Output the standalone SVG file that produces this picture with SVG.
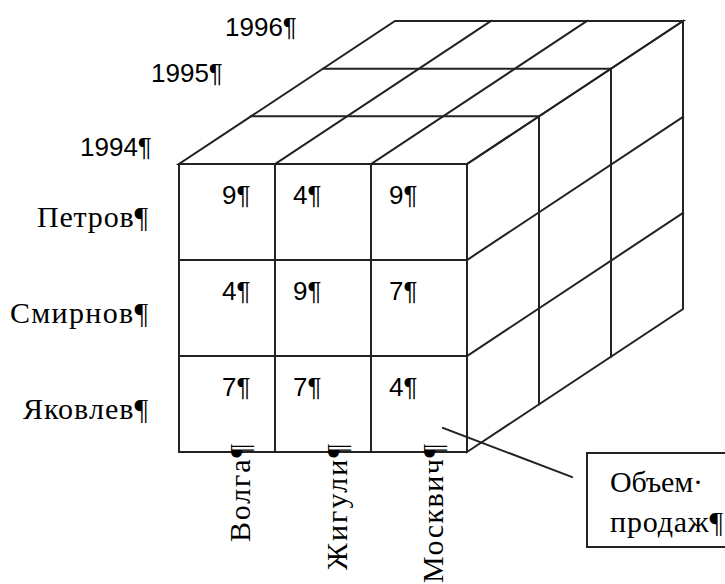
<svg xmlns="http://www.w3.org/2000/svg" width="725" height="584" viewBox="0 0 725 584">
<style>
.ln{stroke:#222;stroke-width:2;fill:none;stroke-linecap:square}
.num{font-family:"Liberation Sans",Arial,sans-serif;font-size:26px;fill:#000}
.lbl{font-family:"Liberation Serif","Times New Roman",serif;font-size:30px;fill:#000}
</style>
<rect width="725" height="584" fill="#fff"/>
<g id="cube">
  <g id="front-face">
    <rect class="ln" x="179" y="164" width="288" height="288"/>
    <line class="ln" x1="275" y1="164" x2="275" y2="452"/>
    <line class="ln" x1="371" y1="164" x2="371" y2="452"/>
    <line class="ln" x1="179" y1="260" x2="467" y2="260"/>
    <line class="ln" x1="179" y1="356" x2="467" y2="356"/>
  </g>
  <g id="top-face">
    <polygon class="ln" points="179,164 467,164 683,21 395,21"/>
    <line class="ln" x1="251" y1="116.3" x2="539" y2="116.3"/>
    <line class="ln" x1="323" y1="68.7" x2="611" y2="68.7"/>
    <line class="ln" x1="275" y1="164" x2="491" y2="21"/>
    <line class="ln" x1="371" y1="164" x2="587" y2="21"/>
  </g>
  <g id="right-face">
    <polygon class="ln" points="467,164 683,21 683,309 467,452"/>
    <line class="ln" x1="467" y1="260" x2="683" y2="117"/>
    <line class="ln" x1="467" y1="356" x2="683" y2="213"/>
    <line class="ln" x1="539" y1="116.3" x2="539" y2="404.3"/>
    <line class="ln" x1="611" y1="68.7" x2="611" y2="356.7"/>
  </g>
</g>
<g id="cells">
  <text class="num" x="222" y="204">9¶</text>
  <text class="num" x="293" y="204">4¶</text>
  <text class="num" x="389" y="204">9¶</text>
  <text class="num" x="222" y="300">4¶</text>
  <text class="num" x="293" y="300">9¶</text>
  <text class="num" x="389" y="300">7¶</text>
  <text class="num" x="222" y="396">7¶</text>
  <text class="num" x="293" y="396">7¶</text>
  <text class="num" x="389" y="396">4¶</text>
</g>
<g id="years">
  <text class="num" x="225" y="36">1996¶</text>
  <text class="num" x="151" y="82">1995¶</text>
  <text class="num" x="80" y="156">1994¶</text>
</g>
<g id="persons">
  <text class="lbl" x="148" y="227" text-anchor="end" textLength="111" lengthAdjust="spacing">Петров¶</text>
  <text class="lbl" x="148" y="323" text-anchor="end" textLength="138" lengthAdjust="spacing">Смирнов¶</text>
  <text class="lbl" x="148" y="419" text-anchor="end" textLength="125" lengthAdjust="spacing">Яковлев¶</text>
</g>
<g id="cars">
  <text class="lbl" transform="translate(250,444) rotate(-90)" text-anchor="end" textLength="98" lengthAdjust="spacing">Волга¶</text>
  <text class="lbl" transform="translate(347,444) rotate(-90)" text-anchor="end" textLength="126" lengthAdjust="spacing">Жигули¶</text>
  <text class="lbl" transform="translate(443,444) rotate(-90)" text-anchor="end" textLength="139" lengthAdjust="spacing">Москвич¶</text>
</g>
<g id="connectors">
  <line class="ln" x1="443" y1="428" x2="572" y2="477"/>
</g>
<g id="callout">
  <rect class="ln" x="587" y="453" width="140" height="94"/>
  <text class="lbl" x="610" y="492" textLength="93" lengthAdjust="spacing">Объем·</text>
  <text class="lbl" x="610" y="532" textLength="113" lengthAdjust="spacing">продаж¶</text>
</g>
</svg>
